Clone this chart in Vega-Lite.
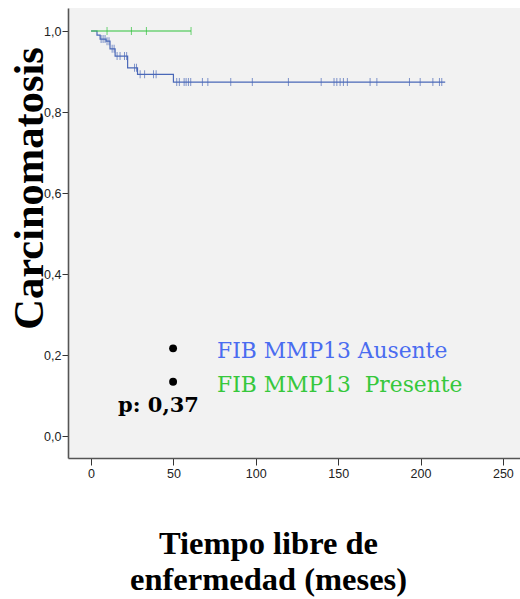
{
  "$schema": "https://vega.github.io/schema/vega-lite/v6.json",
  "width": 452,
  "height": 450,
  "autosize": {"type": "none"},
  "padding": {"left": 68, "top": 8, "right": 0, "bottom": 141},
  "background": "white",
  "config": {
    "view": {"fill": "#f2f2f2", "stroke": null},
    "axis": {
      "labelFont": "Liberation Sans",
      "labelFontSize": 12.5,
      "labelColor": "#222",
      "domainColor": "#555",
      "domainWidth": 1.6,
      "tickColor": "#333",
      "tickWidth": 1,
      "grid": false
    }
  },
  "datasets": {
    "km": [
      {"grupo": "Ausente", "t": 0, "s": 1.0, "censor": false},
      {"grupo": "Ausente", "t": 3.6, "s": 0.990, "censor": false},
      {"grupo": "Ausente", "t": 5.5, "s": 0.980, "censor": false},
      {"grupo": "Ausente", "t": 6.1, "s": 0.980, "censor": true},
      {"grupo": "Ausente", "t": 7.3, "s": 0.980, "censor": true},
      {"grupo": "Ausente", "t": 8.5, "s": 0.980, "censor": true},
      {"grupo": "Ausente", "t": 9.1, "s": 0.975, "censor": false},
      {"grupo": "Ausente", "t": 9.7, "s": 0.975, "censor": true},
      {"grupo": "Ausente", "t": 10.9, "s": 0.975, "censor": true},
      {"grupo": "Ausente", "t": 11.5, "s": 0.956, "censor": false},
      {"grupo": "Ausente", "t": 12.8, "s": 0.956, "censor": true},
      {"grupo": "Ausente", "t": 14.0, "s": 0.956, "censor": true},
      {"grupo": "Ausente", "t": 14.6, "s": 0.938, "censor": false},
      {"grupo": "Ausente", "t": 15.8, "s": 0.938, "censor": true},
      {"grupo": "Ausente", "t": 17.6, "s": 0.938, "censor": true},
      {"grupo": "Ausente", "t": 20.3, "s": 0.938, "censor": true},
      {"grupo": "Ausente", "t": 21.6, "s": 0.938, "censor": true},
      {"grupo": "Ausente", "t": 22.2, "s": 0.909, "censor": false},
      {"grupo": "Ausente", "t": 26.4, "s": 0.909, "censor": true},
      {"grupo": "Ausente", "t": 27.6, "s": 0.909, "censor": true},
      {"grupo": "Ausente", "t": 28.2, "s": 0.893, "censor": false},
      {"grupo": "Ausente", "t": 29.8, "s": 0.893, "censor": true},
      {"grupo": "Ausente", "t": 32.5, "s": 0.893, "censor": true},
      {"grupo": "Ausente", "t": 37.9, "s": 0.893, "censor": true},
      {"grupo": "Ausente", "t": 39.5, "s": 0.893, "censor": true},
      {"grupo": "Ausente", "t": 50.0, "s": 0.874, "censor": false},
      {"grupo": "Ausente", "t": 52.0, "s": 0.874, "censor": true},
      {"grupo": "Ausente", "t": 53.6, "s": 0.874, "censor": true},
      {"grupo": "Ausente", "t": 56.5, "s": 0.874, "censor": true},
      {"grupo": "Ausente", "t": 57.7, "s": 0.874, "censor": true},
      {"grupo": "Ausente", "t": 59.1, "s": 0.874, "censor": true},
      {"grupo": "Ausente", "t": 60.5, "s": 0.874, "censor": true},
      {"grupo": "Ausente", "t": 67.6, "s": 0.874, "censor": true},
      {"grupo": "Ausente", "t": 70.9, "s": 0.874, "censor": true},
      {"grupo": "Ausente", "t": 84.8, "s": 0.874, "censor": true},
      {"grupo": "Ausente", "t": 97.9, "s": 0.874, "censor": true},
      {"grupo": "Ausente", "t": 119.8, "s": 0.874, "censor": true},
      {"grupo": "Ausente", "t": 139.7, "s": 0.874, "censor": true},
      {"grupo": "Ausente", "t": 147.5, "s": 0.874, "censor": true},
      {"grupo": "Ausente", "t": 149.2, "s": 0.874, "censor": true},
      {"grupo": "Ausente", "t": 151.2, "s": 0.874, "censor": true},
      {"grupo": "Ausente", "t": 153.2, "s": 0.874, "censor": true},
      {"grupo": "Ausente", "t": 155.6, "s": 0.874, "censor": true},
      {"grupo": "Ausente", "t": 169.4, "s": 0.874, "censor": true},
      {"grupo": "Ausente", "t": 173.5, "s": 0.874, "censor": true},
      {"grupo": "Ausente", "t": 193.3, "s": 0.874, "censor": true},
      {"grupo": "Ausente", "t": 199.8, "s": 0.874, "censor": true},
      {"grupo": "Ausente", "t": 207.5, "s": 0.874, "censor": true},
      {"grupo": "Ausente", "t": 211.5, "s": 0.874, "censor": true},
      {"grupo": "Ausente", "t": 212.9, "s": 0.874, "censor": true},
      {"grupo": "Ausente", "t": 215.0, "s": 0.874, "censor": false},
      {"grupo": "Presente", "t": 0, "s": 1.0, "censor": false},
      {"grupo": "Presente", "t": 9.7, "s": 1.0, "censor": true},
      {"grupo": "Presente", "t": 24.5, "s": 1.0, "censor": true},
      {"grupo": "Presente", "t": 33.6, "s": 1.0, "censor": true},
      {"grupo": "Presente", "t": 60.7, "s": 1.0, "censor": true}
    ],
    "notes": [
      {"kind": "bullet", "t": 49.8, "s": 0.2165, "label": "FIB MMP13 Ausente"},
      {"kind": "bullet", "t": 49.8, "s": 0.134, "label": "FIB MMP13 Presente"},
      {"kind": "ausente", "t": 76.5, "s": 0.192, "label": "FIB MMP13 Ausente"},
      {"kind": "presente", "t": 76.5, "s": 0.109, "label": "FIB MMP13\u00a0 Presente"},
      {"kind": "p", "t": 16.4, "s": 0.060, "label": "p: 0,37"}
    ]
  },
  "encoding": {
    "x": {
      "field": "t",
      "type": "quantitative",
      "scale": {"domain": [-14, 260.4], "nice": false, "zero": false},
      "axis": {
        "values": [0, 50, 100, 150, 200, 250],
        "tickSize": 7,
        "labelPadding": 2,
        "title": ["Tiempo libre de", "enfermedad (meses)"],
        "titleFont": "Liberation Serif",
        "titleFontSize": 32.5,
        "titleFontWeight": "bold",
        "titleColor": "#000",
        "titleLineHeight": 36,
        "titleAlign": "center",
        "titleBaseline": "alphabetic",
        "titleAnchor": null,
        "titleX": 200,
        "titleY": 95
      }
    },
    "y": {
      "field": "s",
      "type": "quantitative",
      "scale": {"domain": [-0.0543, 1.0568], "nice": false, "zero": false},
      "axis": {
        "values": [0, 0.2, 0.4, 0.6, 0.8, 1.0],
        "labelExpr": "replace(format(datum.value, '.1f'), '.', ',')",
        "tickSize": 6,
        "labelPadding": 1,
        "title": "Carcinomatosis",
        "titleFont": "Liberation Serif",
        "titleFontSize": 42.5,
        "titleFontWeight": "bold",
        "titleColor": "#000",
        "titleAngle": 270,
        "titleAlign": "center",
        "titleBaseline": "alphabetic",
        "titleX": -26,
        "titleY": 180
      }
    }
  },
  "layer": [
    {
      "data": {"name": "km"},
      "mark": {"type": "line", "interpolate": "step-after", "strokeWidth": 1.2},
      "encoding": {
        "color": {
          "field": "grupo",
          "type": "nominal",
          "scale": {"domain": ["Ausente", "Presente"], "range": ["#4a68b8", "#2fc23a"]},
          "legend": null
        },
        "order": {"field": "t", "type": "quantitative"}
      }
    },
    {
      "data": {"name": "km"},
      "transform": [{"filter": "datum.censor"}],
      "mark": {"type": "tick", "orient": "vertical", "size": 8, "thickness": 1},
      "encoding": {
        "color": {
          "field": "grupo",
          "type": "nominal",
          "scale": {"domain": ["Ausente", "Presente"], "range": ["#4a68b8", "#2fc23a"]},
          "legend": null
        }
      }
    },
    {
      "data": {"values": [{}]},
      "mark": {"type": "rule", "color": "#777", "strokeWidth": 1.5},
      "encoding": {"y": {"datum": 1.0568}}
    },
    {
      "data": {"name": "notes"},
      "transform": [{"filter": "datum.kind === 'bullet'"}],
      "mark": {"type": "point", "shape": "circle", "filled": true, "size": 62, "color": "#000", "opacity": 1},
      "encoding": {}
    },
    {
      "data": {"name": "notes"},
      "transform": [{"filter": "datum.kind === 'ausente'"}],
      "mark": {"type": "text", "font": "DejaVu Serif", "fontSize": 21.8, "align": "left", "baseline": "alphabetic", "color": "#4a6cf0"},
      "encoding": {"text": {"field": "label"}}
    },
    {
      "data": {"name": "notes"},
      "transform": [{"filter": "datum.kind === 'presente'"}],
      "mark": {"type": "text", "font": "DejaVu Serif", "fontSize": 21.8, "align": "left", "baseline": "alphabetic", "color": "#36c83c"},
      "encoding": {"text": {"field": "label"}}
    },
    {
      "data": {"name": "notes"},
      "transform": [{"filter": "datum.kind === 'p'"}],
      "mark": {"type": "text", "font": "DejaVu Serif", "fontSize": 21, "fontWeight": "bold", "align": "left", "baseline": "alphabetic", "color": "#000"},
      "encoding": {"text": {"field": "label"}}
    }
  ]
}
